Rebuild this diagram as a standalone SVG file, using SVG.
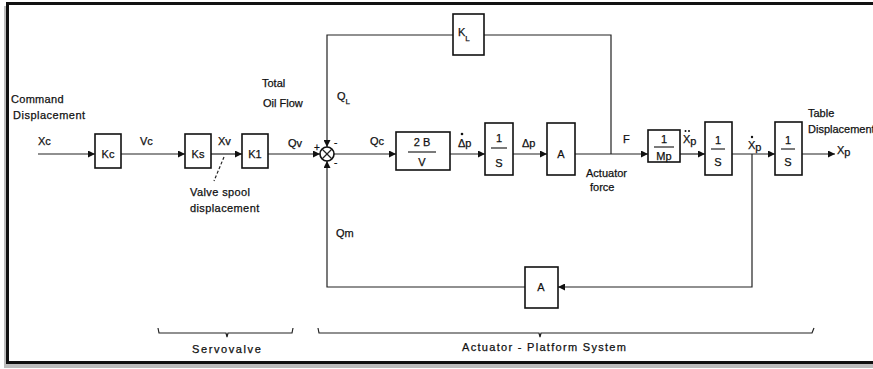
<svg xmlns="http://www.w3.org/2000/svg" width="873" height="369" viewBox="0 0 873 369">
<defs>
<marker id="ar" viewBox="0 0 10 10" refX="10" refY="5" markerWidth="9" markerHeight="7" markerUnits="userSpaceOnUse" orient="auto">
<path d="M0,0 L10,5 L0,10 z" fill="#111"/>
</marker>
<style>
.bx{fill:#fff;stroke:#111;stroke-width:1.6}
.ln{fill:none;stroke:#222;stroke-width:1.2}
.t{font-family:"Liberation Sans","DejaVu Sans",sans-serif;font-size:11px;fill:#111;stroke:#111;stroke-width:0.25}
.c{text-anchor:middle}
.s{font-size:8px}
</style>
</defs>
<rect x="0" y="0" width="873" height="369" fill="#fff"/>
<rect x="4" y="6" width="872" height="362" fill="#bdbdbd"/>
<rect x="7.5" y="3.5" width="870" height="359" fill="#fff" stroke="#111" stroke-width="3"/>

<g id="connectors">
<line class="ln" x1="38" y1="154" x2="95" y2="154" marker-end="url(#ar)"/>
<line class="ln" x1="121" y1="154" x2="185" y2="154" marker-end="url(#ar)"/>
<line class="ln" x1="211" y1="154" x2="242" y2="154" marker-end="url(#ar)"/>
<line class="ln" x1="268" y1="154" x2="320" y2="154" marker-end="url(#ar)"/>
<line class="ln" x1="334" y1="154" x2="396" y2="154" marker-end="url(#ar)"/>
<line class="ln" x1="450" y1="154" x2="485" y2="154" marker-end="url(#ar)"/>
<line class="ln" x1="513" y1="154" x2="547" y2="154" marker-end="url(#ar)"/>
<line class="ln" x1="575" y1="154" x2="648" y2="154" marker-end="url(#ar)"/>
<line class="ln" x1="680" y1="154" x2="705" y2="154" marker-end="url(#ar)"/>
<line class="ln" x1="732" y1="154" x2="775" y2="154" marker-end="url(#ar)"/>
<line class="ln" x1="802" y1="154" x2="835" y2="154" marker-end="url(#ar)"/>
<polyline class="ln" points="611,154 611,35 484,35"/>
<polyline class="ln" points="453,35 327,35 327,147" marker-end="url(#ar)"/>
<polyline class="ln" points="752,154 752,287 558,287" marker-end="url(#ar)"/>
<polyline class="ln" points="525,287 327,287 327,161" marker-end="url(#ar)"/>
<line class="ln" x1="224" y1="157" x2="214" y2="181" stroke-dasharray="3,2"/>
</g>

<g id="sum">
<circle cx="327" cy="154" r="7" fill="#fff" stroke="#111" stroke-width="1.6"/>
<line class="ln" x1="322" y1="149" x2="332" y2="159"/>
<line class="ln" x1="332" y1="149" x2="322" y2="159"/>
<text class="t" x="314" y="151" style="font-size:10px">+</text>
<text class="t" x="334" y="146" style="font-size:10px">-</text>
<text class="t" x="334" y="166" style="font-size:10px">-</text>
</g>

<g id="kc"><rect class="bx" x="95" y="134" width="26" height="34"/><text class="t c" x="108" y="158">Kc</text></g>
<g id="ks"><rect class="bx" x="185" y="134" width="26" height="34"/><text class="t c" x="198" y="158">Ks</text></g>
<g id="k1"><rect class="bx" x="242" y="134" width="26" height="34"/><text class="t c" x="255" y="158">K1</text></g>
<g id="kl"><rect class="bx" x="453" y="14" width="31" height="41"/><text class="t" x="458" y="36">K<tspan class="s" dy="5">L</tspan></text></g>
<g id="twobv"><rect class="bx" x="396" y="132" width="54" height="38"/><text class="t c" x="422" y="146">2 B</text><line class="ln" x1="408" y1="152" x2="436" y2="152"/><text class="t c" x="422" y="166">V</text></g>
<g id="int1"><rect class="bx" x="485" y="123" width="28" height="52"/><text class="t c" x="499" y="142">1</text><line class="ln" x1="491" y1="148" x2="507" y2="148"/><text class="t c" x="499" y="167">S</text></g>
<g id="a1"><rect class="bx" x="547" y="123" width="28" height="52"/><text class="t c" x="561" y="158">A</text></g>
<g id="mp"><rect class="bx" x="648" y="130" width="32" height="32"/><text class="t c" x="664" y="143">1</text><line class="ln" x1="654" y1="147" x2="674" y2="147"/><text class="t c" x="664" y="160">Mp</text></g>
<g id="int2"><rect class="bx" x="705" y="122" width="27" height="53"/><text class="t c" x="718" y="144">1</text><line class="ln" x1="711" y1="149" x2="725" y2="149"/><text class="t c" x="718" y="166">S</text></g>
<g id="int3"><rect class="bx" x="775" y="122" width="27" height="53"/><text class="t c" x="788" y="144">1</text><line class="ln" x1="781" y1="149" x2="795" y2="149"/><text class="t c" x="788" y="166">S</text></g>
<g id="a2"><rect class="bx" x="525" y="267" width="33" height="41"/><text class="t c" x="541" y="291">A</text></g>

<g id="labels">
<text class="t" x="11" y="103" style="letter-spacing:0.3px">Command</text>
<text class="t" x="13" y="119" style="letter-spacing:0.5px">Displacement</text>
<text class="t" x="38" y="145">Xc</text>
<text class="t" x="140" y="145">Vc</text>
<text class="t" x="218" y="145">Xv</text>
<text class="t" x="288" y="147">Qv</text>
<text class="t" x="262" y="87">Total</text>
<text class="t" x="263" y="107">Oil Flow</text>
<text class="t" x="337" y="100">Q<tspan class="s" dy="4">L</tspan></text>
<text class="t" x="370" y="145">Qc</text>
<text class="t" x="458" y="147">Δp</text>
<circle cx="462" cy="134" r="1.3" fill="#111"/>
<text class="t" x="522" y="147">Δp</text>
<text class="t" x="623" y="143">F</text>
<text class="t" x="586" y="177">Actuator</text>
<text class="t" x="590" y="191">force</text>
<text class="t" x="683" y="143">X<tspan dy="2">p</tspan></text>
<circle cx="685.5" cy="131" r="1" fill="#111"/>
<circle cx="689" cy="131" r="1" fill="#111"/>
<text class="t" x="748" y="149">X<tspan dy="2">p</tspan></text>
<circle cx="752" cy="137" r="1.2" fill="#111"/>
<text class="t" x="837" y="154">X<tspan dy="2">p</tspan></text>
<text class="t" x="808" y="117">Table</text>
<text class="t" x="808" y="133">Displacement</text>
<text class="t" x="336" y="237">Qm</text>
<text class="t" x="190" y="196" style="letter-spacing:0.4px">Valve spool</text>
<text class="t" x="190" y="212" style="letter-spacing:0.4px">displacement</text>
<polyline class="ln" points="158,328 159,333 226,333 227,337 228,333 292,333 293,328"/>
<text class="t" x="192" y="353" style="letter-spacing:1.6px">Servovalve</text>
<polyline class="ln" points="318,328 319,333 539,333 540,337 541,333 812,333 814,328"/>
<text class="t" x="462" y="351" style="letter-spacing:1.3px">Actuator - Platform System</text>
</g>
</svg>
